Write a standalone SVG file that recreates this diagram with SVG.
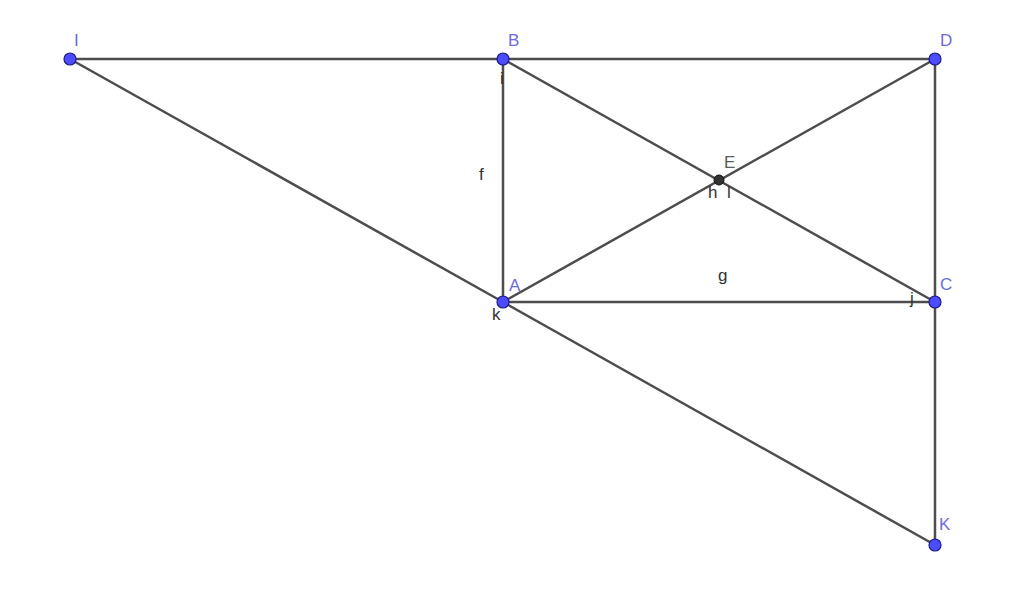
<svg xmlns="http://www.w3.org/2000/svg" width="1024" height="594" viewBox="0 0 1024 594">
<style>
.seg{stroke:#4d4d4d;stroke-width:2.5;fill:none;stroke-linecap:round}
.pt{fill:#4d4dff;stroke:#1a1a8c;stroke-width:1.2}
.lbl{font-family:"Liberation Sans",Arial,sans-serif;font-size:17px;fill:#6c6cd8}
.slbl{font-family:"Liberation Sans",Arial,sans-serif;font-size:17px;fill:#333}
</style>
<rect width="1024" height="594" fill="#fff"/>
<g id="connectors">
<line class="seg" x1="70" y1="59" x2="503" y2="59"/>
<line class="seg" x1="503" y1="59" x2="935" y2="59"/>
<line class="seg" x1="70" y1="59" x2="503" y2="302"/>
<line class="seg" x1="503" y1="302" x2="935" y2="545"/>
<line class="seg" x1="503" y1="59" x2="503" y2="302"/>
<line class="seg" x1="503" y1="302" x2="935" y2="302"/>
<line class="seg" x1="503" y1="59" x2="935" y2="302"/>
<line class="seg" x1="503" y1="302" x2="935" y2="59"/>
<line class="seg" x1="935" y1="59" x2="935" y2="302"/>
<line class="seg" x1="935" y1="302" x2="935" y2="545"/>
<text class="slbl" x="479" y="180">f</text>
<text class="slbl" x="718" y="281">g</text>
<text class="slbl" x="500" y="84">i</text>
<text class="slbl" x="708" y="198">h</text>
<text class="slbl" x="727" y="198">l</text>
<text class="slbl" x="910" y="304">j</text>
<text class="slbl" x="492" y="320">k</text>
</g>
<g id="node-I"><circle class="pt" cx="70" cy="59" r="6"/><text class="lbl" x="74" y="46">I</text></g>
<g id="node-B"><circle class="pt" cx="503" cy="59" r="6"/><text class="lbl" x="508" y="46">B</text></g>
<g id="node-D"><circle class="pt" cx="935" cy="59" r="6"/><text class="lbl" x="940" y="46">D</text></g>
<g id="node-E"><circle cx="719" cy="180" r="5" fill="#333" stroke="#111" stroke-width="1"/><text class="slbl" x="724" y="168" style="fill:#5a5a5a">E</text></g>
<g id="node-A"><circle class="pt" cx="503" cy="302" r="6"/><text class="lbl" x="509" y="291">A</text></g>
<g id="node-C"><circle class="pt" cx="935" cy="302" r="6"/><text class="lbl" x="940" y="290">C</text></g>
<g id="node-K"><circle class="pt" cx="935" cy="545" r="6"/><text class="lbl" x="939" y="530">K</text></g>
</svg>
